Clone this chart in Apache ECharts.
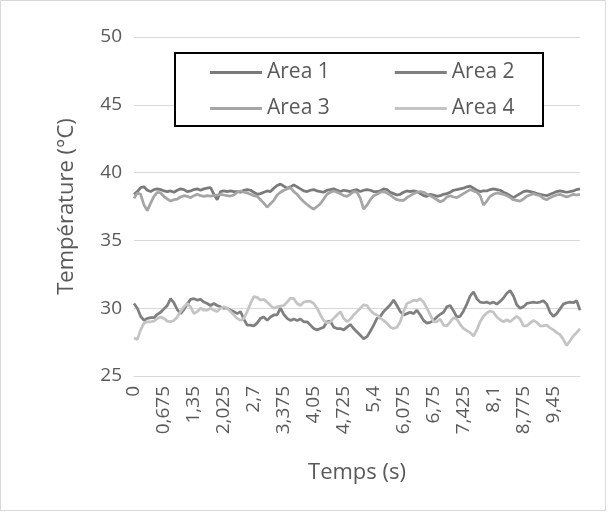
<!DOCTYPE html>
<html>
<head>
<meta charset="utf-8">
<script src="https://cdn.jsdelivr.net/npm/echarts@6/dist/echarts.min.js"></script>
<style>
html,body{margin:0;padding:0;background:#fff;}
#c{width:608px;height:513px;}
</style>
</head>
<body>
<div id="c"></div>
<script>
// time step 0.075 s, 135 samples (0 .. 10.05 s)
const timeStep = 0.075;
const nPoints = 135;
const categories = [];
for (let i = 0; i < nPoints; i++) {
  categories.push(String(Math.round(i * 75) / 1000).replace('.', ','));
}
const yTicks = {min: 25, max: 50, interval: 5};
const seriesNames = ['Area 1', 'Area 2', 'Area 3', 'Area 4'];

const area1 = [
 38.4, 38.6, 38.9, 38.95, 38.7, 38.6, 38.75, 38.8, 38.75, 38.65,
 38.6, 38.65, 38.55, 38.7, 38.8, 38.75, 38.6, 38.65, 38.75, 38.8,
 38.7, 38.8, 38.85, 38.9, 38.4, 38.0, 38.6, 38.65, 38.6, 38.65,
 38.6, 38.6, 38.55, 38.7, 38.75, 38.7, 38.55, 38.4, 38.45, 38.55,
 38.65, 38.6, 38.85, 39.05, 39.15, 39.0, 38.85, 38.95, 39.1, 38.95,
 38.8, 38.65, 38.6, 38.7, 38.75, 38.65, 38.6, 38.55, 38.7, 38.75,
 38.8, 38.7, 38.6, 38.7, 38.65, 38.6, 38.7, 38.75, 38.6, 38.7,
 38.75, 38.7, 38.6, 38.6, 38.65, 38.8, 38.75, 38.55, 38.45, 38.35,
 38.4, 38.55, 38.65, 38.6, 38.65, 38.6, 38.45, 38.3, 38.25, 38.4,
 38.35, 38.25, 38.3, 38.4, 38.45, 38.55, 38.7, 38.75, 38.8, 38.85,
 38.95, 39.0, 38.85, 38.7, 38.6, 38.65, 38.65, 38.75, 38.8, 38.75,
 38.7, 38.55, 38.45, 38.3, 38.15, 38.3, 38.45, 38.6, 38.65, 38.6,
 38.55, 38.45, 38.4, 38.35, 38.3, 38.4, 38.5, 38.6, 38.65, 38.6,
 38.55, 38.6, 38.65, 38.75, 38.8
];
const area2 = [
 30.35, 30.0, 29.4, 29.1, 29.25, 29.3, 29.3, 29.55, 29.7, 29.95,
 30.2, 30.7, 30.4, 29.9, 29.6, 29.9, 30.3, 30.65, 30.7, 30.6,
 30.65, 30.45, 30.35, 30.2, 30.35, 30.2, 30.1, 30.0, 30.0, 29.85,
 29.75, 29.6, 29.75, 29.2, 28.75, 28.75, 28.7, 28.9, 29.25, 29.35,
 29.1, 29.35, 29.5, 29.5, 30.0, 29.55, 29.25, 29.1, 29.2, 29.1,
 29.2, 29.0, 29.0, 28.75, 28.5, 28.4, 28.5, 28.6, 29.0, 29.05,
 28.6, 28.5, 28.5, 28.4, 28.6, 28.8, 28.5, 28.25, 28.0, 27.75,
 27.9, 28.3, 28.75, 29.25, 29.4, 29.75, 30.0, 30.25, 30.6, 30.2,
 29.75, 29.5, 29.6, 29.7, 29.6, 29.85, 29.5, 29.1, 28.9, 28.95,
 29.1, 29.35, 29.55, 29.7, 30.1, 30.2, 29.8, 29.35, 29.4, 29.8,
 30.3, 30.9, 31.2, 30.7, 30.45, 30.4, 30.45, 30.35, 30.45, 30.3,
 30.5, 30.75, 31.1, 31.3, 30.9, 30.25, 30.0, 30.1, 30.35, 30.4,
 30.45, 30.4, 30.45, 30.55, 30.3, 29.7, 29.4, 29.6, 29.95, 30.3,
 30.4, 30.45, 30.4, 30.55, 29.85
];
const area3 = [
 38.1, 38.5, 38.4, 37.6, 37.2, 37.75, 38.25, 38.55, 38.5, 38.25,
 38.05, 37.9, 38.0, 38.05, 38.2, 38.3, 38.25, 38.15, 38.3, 38.4,
 38.3, 38.25, 38.3, 38.27, 38.3, 38.35, 38.4, 38.35, 38.3, 38.27,
 38.35, 38.55, 38.65, 38.55, 38.5, 38.4, 38.3, 38.25, 38.0, 37.75,
 37.45, 37.7, 37.95, 38.35, 38.55, 38.7, 38.8, 38.9, 38.6, 38.4,
 38.1, 37.85, 37.65, 37.45, 37.3, 37.5, 37.7, 38.05, 38.4, 38.55,
 38.65, 38.55, 38.45, 38.3, 38.25, 38.4, 38.6, 38.55, 38.1, 37.3,
 37.6, 38.0, 38.3, 38.4, 38.55, 38.6, 38.5, 38.35, 38.15, 38.0,
 37.95, 37.95, 38.15, 38.3, 38.45, 38.55, 38.6, 38.55, 38.4, 38.3,
 38.15, 38.0, 37.85, 37.95, 38.2, 38.3, 38.2, 38.15, 38.3, 38.45,
 38.6, 38.75, 38.65, 38.55, 38.3, 37.6, 37.9, 38.25, 38.4, 38.5,
 38.45, 38.4, 38.3, 38.15, 38.0, 37.95, 37.9, 38.05, 38.25, 38.35,
 38.45, 38.35, 38.3, 38.1, 38.0, 38.15, 38.25, 38.35, 38.4, 38.3,
 38.2, 38.3, 38.4, 38.35, 38.4
];
const area4 = [
 27.8, 27.7, 28.4, 28.9, 29.0, 29.0, 29.05, 29.25, 29.35, 29.25,
 29.05, 29.0, 29.1, 29.35, 29.75, 30.1, 30.35, 30.1, 29.6, 29.75,
 30.0, 29.85, 29.85, 30.0, 29.85, 29.75, 30.0, 30.1, 30.0, 29.75,
 29.5, 29.25, 29.1, 29.25, 29.75, 30.35, 30.85, 30.8, 30.6, 30.65,
 30.45, 30.2, 30.0, 30.1, 30.15, 30.2, 30.45, 30.75, 30.7, 30.35,
 30.2, 30.45, 30.5, 30.5, 30.35, 30.0, 29.5, 29.1, 28.9, 29.0,
 29.25, 29.5, 29.75, 29.25, 29.0, 29.2, 29.5, 29.75, 30.0, 30.25,
 30.2, 29.85, 29.6, 29.5, 29.25, 29.1, 28.9, 28.6, 28.5, 28.6,
 29.0, 29.75, 30.35, 30.45, 30.6, 30.55, 30.7, 30.45, 30.0, 29.5,
 29.0, 29.0, 29.2, 28.75, 28.7, 29.0, 29.3, 29.2, 28.8, 28.5,
 28.35, 28.2, 27.95, 28.4, 29.0, 29.4, 29.65, 29.8, 29.7, 29.35,
 29.15, 29.0, 29.15, 29.0, 29.2, 29.4, 29.2, 28.7, 28.7, 28.9,
 29.1, 28.95, 28.7, 28.7, 28.75, 28.55, 28.4, 28.2, 28.05, 27.7,
 27.25, 27.6, 27.95, 28.2, 28.5
];

const colors = ['#7a7a7a', '#7f7f7f', '#a5a5a5', '#c4c4c4'];
const textColor = '#595959';
const fontFamily = '"Open Sans", sans-serif';

const chart = echarts.init(document.getElementById('c'), null, {renderer: 'canvas'});

const legendCommon = {
  orient: 'horizontal',
  icon: 'rect',
  itemWidth: 52,
  itemHeight: 3,
  itemGap: 65,
  padding: 0,
  textStyle: {color: textColor, fontSize: 21, fontFamily: fontFamily},
  selectedMode: false
};

chart.setOption({
  animation: false,
  color: colors,
  grid: {left: 134, right: 28, top: 37, bottom: 137, containLabel: false},
  graphic: [
    {type: 'rect', shape: {x: 0.5, y: 0.5, width: 605, height: 510},
     style: {fill: 'none', stroke: '#d9d9d9', lineWidth: 1}, z: -10},
    {type: 'rect', shape: {x: 175, y: 53, width: 368, height: 73},
     style: {fill: '#ffffff', stroke: '#000000', lineWidth: 2}, z: 5}
  ],
  legend: [
    Object.assign({}, legendCommon, {data: [seriesNames[0], seriesNames[1]], left: 210, top: 62, z: 10}),
    Object.assign({}, legendCommon, {data: [seriesNames[2], seriesNames[3]], left: 210, top: 98, z: 10})
  ],
  xAxis: {
    type: 'category',
    data: categories,
    boundaryGap: false,
    name: 'Temps (s)',
    nameLocation: 'middle',
    nameGap: 86,
    nameTextStyle: {color: textColor, fontSize: 22, fontFamily: fontFamily},
    axisLine: {show: true, lineStyle: {color: '#d9d9d9', width: 1}},
    axisTick: {show: false},
    splitLine: {show: false},
    axisLabel: {
      interval: 8,
      rotate: 90,
      margin: 10,
      color: textColor,
      fontSize: 19,
      fontFamily: fontFamily
    }
  },
  yAxis: {
    type: 'value',
    min: yTicks.min,
    max: yTicks.max,
    interval: yTicks.interval,
    name: 'Température (°C)',
    nameLocation: 'middle',
    nameGap: 56,
    nameTextStyle: {color: textColor, fontSize: 22, fontFamily: fontFamily},
    axisLine: {show: false},
    axisTick: {show: false},
    splitLine: {show: true, lineStyle: {color: '#d9d9d9', width: 1}},
    axisLabel: {color: textColor, fontSize: 19, fontFamily: fontFamily, margin: 12}
  },
  series: [
    {name: seriesNames[0], type: 'line', data: area1, showSymbol: false, symbol: 'none', lineStyle: {width: 2.75, color: colors[0]}, itemStyle: {color: colors[0]}},
    {name: seriesNames[1], type: 'line', data: area2, showSymbol: false, symbol: 'none', lineStyle: {width: 2.75, color: colors[1]}, itemStyle: {color: colors[1]}},
    {name: seriesNames[2], type: 'line', data: area3, showSymbol: false, symbol: 'none', lineStyle: {width: 2.75, color: colors[2]}, itemStyle: {color: colors[2]}},
    {name: seriesNames[3], type: 'line', data: area4, showSymbol: false, symbol: 'none', lineStyle: {width: 2.75, color: colors[3]}, itemStyle: {color: colors[3]}}
  ]
});
</script>
</body>
</html>
